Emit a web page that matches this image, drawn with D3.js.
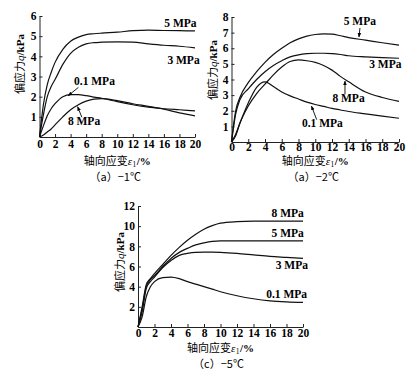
<!DOCTYPE html>
<html>
<head>
<meta charset="utf-8">
<script src="https://cdn.jsdelivr.net/npm/d3@7"></script>
<style>
  body { margin: 0; background: #fff; }
  .tick text { font-family: "Liberation Serif", serif; font-weight: bold; font-size: 11.5px; }
  .lab { font-family: "Liberation Serif", serif; font-weight: bold; font-size: 11.5px; }
  .cn { font-family: "Noto Sans CJK SC", sans-serif; font-size: 11px; }
</style>
</head>
<body>
<svg width="413" height="375"></svg>
<script>
// strain grids (%)
let strainA = [0, 0.5, 1, 1.5, 2, 3, 4, 5, 6, 7, 8, 10, 12, 14, 16, 18, 20];
let strainB = [0, 0.5, 1, 2, 3, 4, 5, 6, 7, 8, 9, 10, 11, 12, 13, 14, 16, 18, 20];
let strainC = [0, 0.5, 1, 1.5, 2, 3, 4, 5, 6, 7, 8, 9, 10, 12, 14, 16, 18, 20];

// deviator stress q (kPa), -1 C
let a_5 = [0, 1.6, 2.6, 3.2, 3.7, 4.35, 4.75, 4.95, 5.08, 5.12, 5.15, 5.2, 5.27, 5.3, 5.28, 5.27, 5.26];
let a_3 = [0, 1.1, 2.0, 2.5, 2.85, 3.6, 4.15, 4.45, 4.62, 4.68, 4.7, 4.72, 4.7, 4.62, 4.55, 4.5, 4.42];
let a_01 = [0, 0.55, 1.05, 1.4, 1.65, 2.0, 2.1, 2.1, 2.05, 1.98, 1.92, 1.75, 1.6, 1.48, 1.4, 1.35, 1.3];
let a_8 = [0, 0.1, 0.25, 0.4, 0.6, 1.0, 1.35, 1.6, 1.78, 1.88, 1.9, 1.8, 1.65, 1.52, 1.38, 1.2, 1.05];

// -2 C
let b_5 = [0, 2.0, 2.85, 3.8, 4.5, 5.1, 5.6, 6.0, 6.35, 6.6, 6.78, 6.88, 6.92, 6.9, 6.8, 6.68, 6.52, 6.35, 6.2];
let b_3 = [0, 1.8, 2.7, 3.4, 4.0, 4.5, 4.9, 5.2, 5.45, 5.58, 5.65, 5.68, 5.68, 5.66, 5.6, 5.52, 5.45, 5.4, 5.36];
let b_8 = [0, 0.4, 1.2, 2.3, 3.1, 3.7, 4.3, 4.8, 5.15, 5.25, 5.2, 5.1, 4.9, 4.6, 4.2, 3.85, 3.2, 2.85, 2.6];
let b_01 = [0, 0.5, 1.2, 2.5, 3.5, 3.85, 3.55, 3.2, 2.95, 2.75, 2.55, 2.4, 2.28, 2.15, 2.05, 1.95, 1.8, 1.65, 1.52];

// -5 C
let c_8 = [0, 2.0, 4.2, 4.8, 5.3, 6.2, 7.1, 7.9, 8.6, 9.2, 9.7, 10.05, 10.3, 10.45, 10.5, 10.5, 10.5, 10.5];
let c_5 = [0, 1.8, 4.0, 4.7, 5.1, 6.0, 6.8, 7.4, 7.8, 8.15, 8.35, 8.5, 8.55, 8.55, 8.55, 8.55, 8.55, 8.55];
let c_3 = [0, 1.5, 3.8, 4.5, 4.95, 5.9, 6.6, 7.1, 7.3, 7.4, 7.42, 7.42, 7.4, 7.3, 7.15, 7.0, 6.9, 6.8];
let c_01 = [0, 1.0, 3.0, 4.0, 4.5, 4.9, 4.95, 4.8, 4.5, 4.25, 4.0, 3.75, 3.5, 3.1, 2.8, 2.6, 2.5, 2.45];

let xTicks = [0, 2, 4, 6, 8, 10, 12, 14, 16, 18, 20];

let svg = d3.select("svg");

svg.append("defs").append("marker")
  .attr("id", "arr")
  .attr("viewBox", "0 0 10 10")
  .attr("refX", 9).attr("refY", 5)
  .attr("markerWidth", 5).attr("markerHeight", 5)
  .attr("orient", "auto")
  .append("path").attr("d", "M0,1 L10,5 L0,9 Z").attr("fill", "#000");

const drawPanel = (p) => {
  let x = d3.scaleLinear().domain([0, 20]).range(p.xr);
  let y = d3.scaleLinear().domain([0, p.ymax]).range(p.yr);
  let g = svg.append("g");

  g.append("g")
    .attr("transform", "translate(0," + p.yr[0] + ")")
    .call(d3.axisBottom(x).tickValues(xTicks).tickFormat(d3.format("d"))
      .tickSizeInner(-3).tickSizeOuter(0).tickPadding(p.xpad));
  g.append("g")
    .attr("transform", "translate(" + p.xr[0] + ",0)")
    .call(d3.axisLeft(y).tickValues(p.yTicks).tickFormat(d3.format("d"))
      .tickSizeInner(-3).tickSizeOuter(0).tickPadding(3));
  g.selectAll(".domain").attr("stroke", "#222");
  g.selectAll(".tick line").attr("stroke", "#222");

  let line = d3.line()
    .x((d, i) => x(p.strain[i]))
    .y(d => y(d))
    .curve(d3.curveMonotoneX);

  p.series.forEach(s => {
    g.append("path")
      .attr("d", line(s.q))
      .attr("fill", "none")
      .attr("stroke", "#111")
      .attr("stroke-width", 1.2);
    g.append("text")
      .attr("class", "lab")
      .attr("x", x(s.lx)).attr("y", y(s.ly))
      .attr("text-anchor", "end")
      .text(s.name);
    if (s.arrow) {
      g.append("line")
        .attr("x1", x(s.arrow[0])).attr("y1", y(s.arrow[1]))
        .attr("x2", x(s.arrow[2])).attr("y2", y(s.arrow[3]))
        .attr("stroke", "#000").attr("stroke-width", 0.9)
        .attr("marker-end", "url(#arr)");
    }
  });

  // y title
  let yt = g.append("text")
    .attr("class", "cn")
    .attr("font-size", "11.5px")
    .attr("transform", "translate(" + p.ytx + "," + p.yty + ") rotate(-90)")
    .attr("text-anchor", "middle");
  yt.append("tspan").text("偏应力");
  yt.append("tspan").attr("font-family", "Liberation Serif").attr("font-style", "italic").text("q");
  yt.append("tspan").attr("font-family", "Liberation Serif").attr("font-weight", "bold").text("/kPa");

  // x title
  let cx = (p.xr[0] + p.xr[1]) / 2;
  let xt = g.append("text")
    .attr("class", "cn")
    .attr("x", cx).attr("y", p.titleY)
    .attr("text-anchor", "middle");
  xt.append("tspan").text("轴向应变");
  xt.append("tspan").attr("font-family", "Liberation Serif").attr("font-style", "italic").text("ε");
  xt.append("tspan").attr("font-family", "Liberation Serif").attr("font-size", "7.5px").attr("dx", 0.5).attr("dy", 2).text("1");
  xt.append("tspan").attr("font-family", "Liberation Serif").attr("font-weight", "bold").attr("dx", 0.5).attr("dy", -2).text("/%");

  g.append("text")
    .attr("class", "cn")
    .attr("x", cx - 2).attr("y", p.capY)
    .attr("text-anchor", "middle")
    .text(p.caption);
};

drawPanel({
  xr: [39.5, 195], yr: [137, 16], ymax: 6, yTicks: [1, 2, 3, 4, 5, 6], xpad: 3,
  strain: strainA, ytx: 24, yty: 64, titleY: 165, capY: 181, caption: "（a）−1℃",
  series: [
    { q: a_5, name: "5 MPa", lx: 20.2, ly: 5.45 },
    { q: a_3, name: "3 MPa", lx: 20.6, ly: 3.62 },
    { q: a_01, name: "0.1 MPa", lx: 9.7, ly: 2.58, arrow: [5.0, 2.46, 3.7, 2.05] },
    { q: a_8, name: "8 MPa", lx: 7.8, ly: 0.6, arrow: [5.45, 0.98, 4.9, 1.5] }
  ]
});

drawPanel({
  xr: [231.5, 399], yr: [142, 17], ymax: 8, yTicks: [1, 2, 3, 4, 5, 6, 7, 8], xpad: 1,
  strain: strainB, ytx: 217, yty: 70, titleY: 165, capY: 181, caption: "（a）−2℃",
  series: [
    { q: b_5, name: "5 MPa", lx: 17.25, ly: 7.49, arrow: [15.34, 7.3, 15.22, 6.72] },
    { q: b_3, name: "3 MPa", lx: 20.3, ly: 4.75 },
    { q: b_8, name: "8 MPa", lx: 15.9, ly: 2.58, arrow: [13.55, 3.05, 13.55, 3.9] },
    { q: b_01, name: "0.1 MPa", lx: 13.3, ly: 0.99, arrow: [10.17, 1.43, 9.55, 2.3] }
  ]
});

drawPanel({
  xr: [138, 303], yr: [327, 206], ymax: 12, yTicks: [2, 4, 6, 8, 10, 12], xpad: 1.5,
  strain: strainC, ytx: 124, yty: 262, titleY: 352, capY: 368, caption: "（c）−5℃",
  series: [
    { q: c_8, name: "8 MPa", lx: 20.1, ly: 10.9 },
    { q: c_5, name: "5 MPa", lx: 20.1, ly: 8.9 },
    { q: c_3, name: "3 MPa", lx: 20.6, ly: 5.74 },
    { q: c_01, name: "0.1 MPa", lx: 20.5, ly: 2.87 }
  ]
});
</script>
</body>
</html>
